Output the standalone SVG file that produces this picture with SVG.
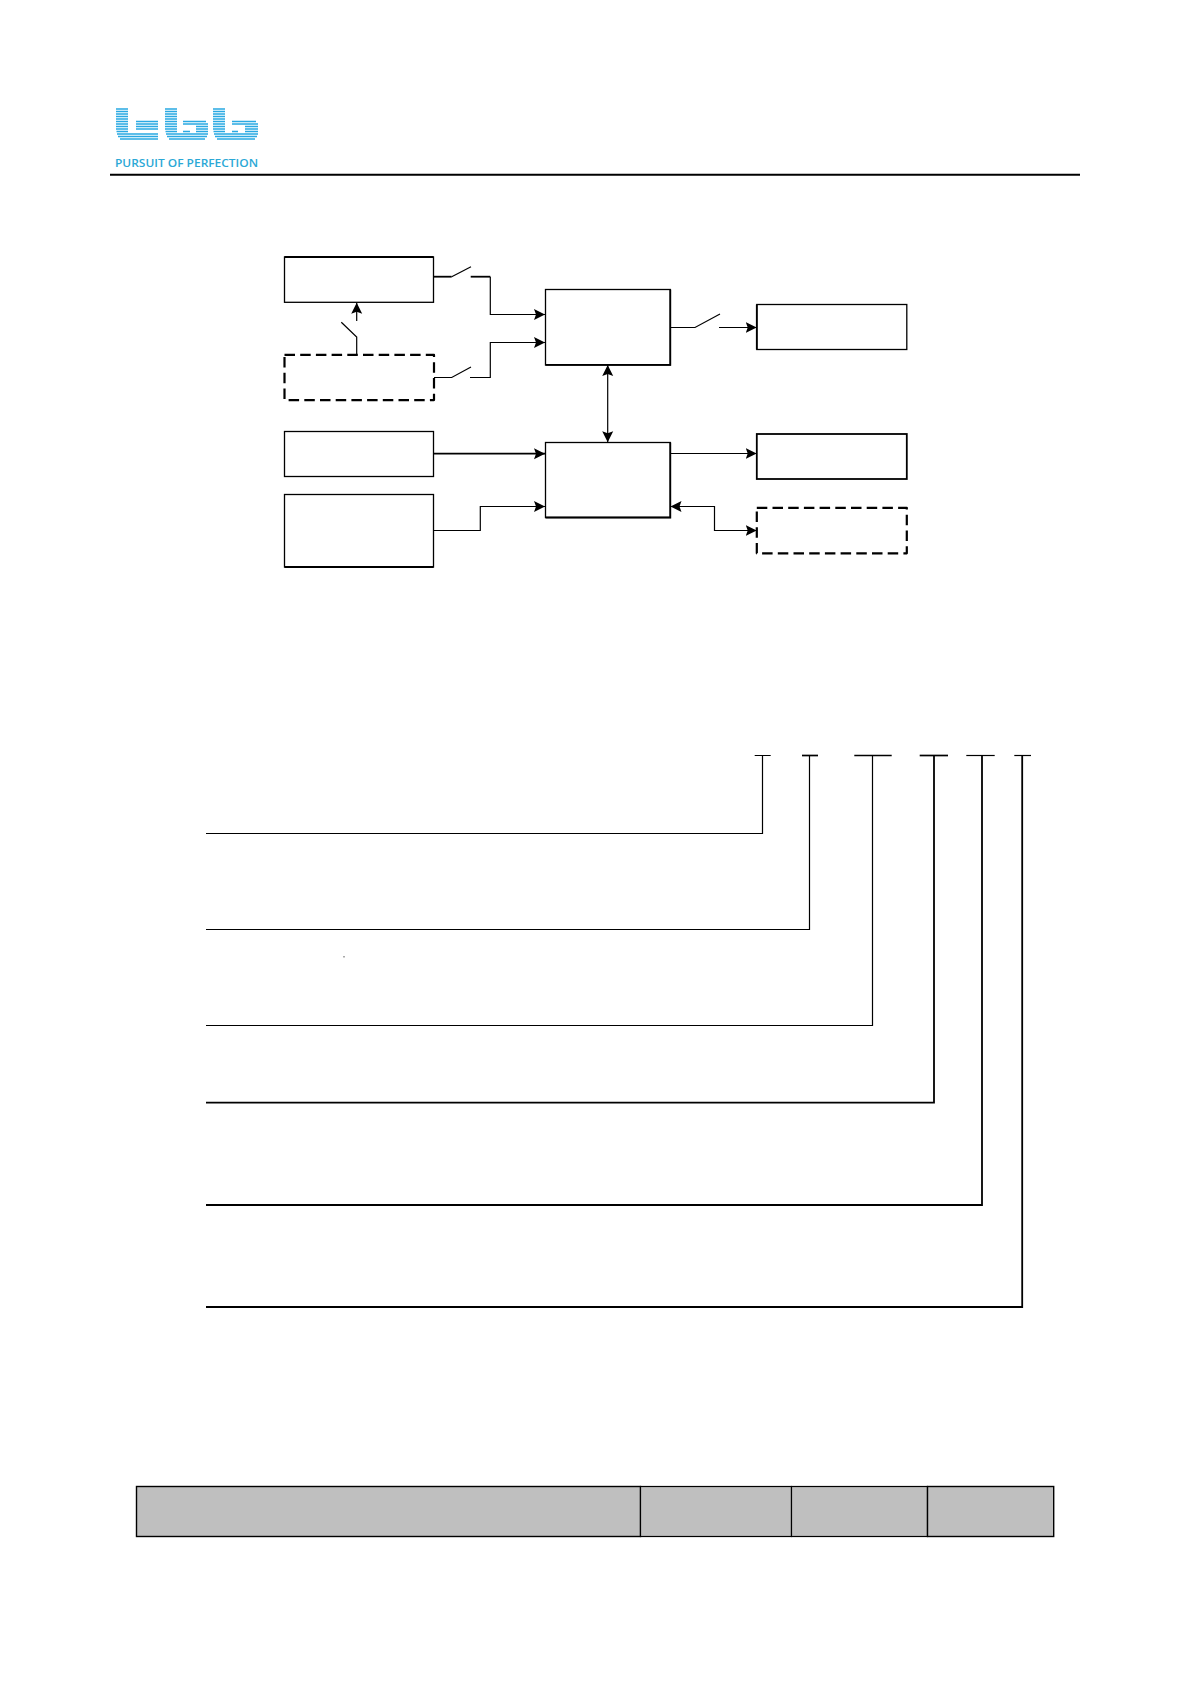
<svg xmlns="http://www.w3.org/2000/svg" width="1191" height="1684" viewBox="0 0 1191 1684">
<style>
.b{fill:#fff;stroke:#000;stroke-width:1.3}
.t{fill:#fff;stroke:#000;stroke-width:1.8}
.d{fill:#fff;stroke:#000;stroke-width:2.2;stroke-dasharray:10.500 5.200;stroke-linejoin:round}
.c{fill:none;stroke:#000;stroke-width:1.2}
.h{fill:none;stroke:#000;stroke-width:1.8}
.s{fill:none;stroke:#2aa9e2;stroke-width:1.500}
</style>
<defs>
<marker id="a" markerUnits="userSpaceOnUse" markerWidth="12" markerHeight="12" refX="11" refY="6" orient="auto-start-reverse"><path d="M0 .5L11 6L0 11.500L2 6Z" fill="#000"/></marker>
<filter id="soft" x="-5%" y="-10%" width="110%" height="120%"><feGaussianBlur stdDeviation="0.450"/></filter>
<path id="stem" d="M0 109H12M0 111.500H12M0 114H12M0 116.500H12M0 119H12M0 121.500H12M0 124H12M0 126.500H12M0 129H12M.5 131.500H12"/>
</defs>
<rect width="1191" height="1684" fill="#fff"/>
<g id="logo">
<g filter="url(#soft)">
<use href="#stem" x="116" class="s"/>
<use href="#stem" x="165" class="s"/>
<use href="#stem" x="213" class="s"/>
<path class="s" d="M117 134H158M118 136.500H158M120 139H158M136 121.500H158M136 124H158M136 126.500H158M136 129H158"/>
<path class="s" d="M166 134H208M167 136.500H207M169 139H205M183 121.500H206M183 124H208M196 126.500H208M196 129H208M196 131.500H208M183 131.500H190"/>
<path class="s" d="M214 134H258M215 136.500H257M217 139H255M232 121.500H256M232 124H258M245 126.500H258M245 129H258M245 131.500H258M232 131.500H238"/>
</g>
<text x="115" y="167" font-family="'Open Sans','Liberation Sans',sans-serif" font-size="11" font-weight="600" fill="#2ba8d6" textLength="143" lengthAdjust="spacingAndGlyphs">PURSUIT OF PERFECTION</text>
</g>
<path id="rule" d="M110 174.800H1080" stroke="#000" stroke-width="2"/>
<g id="connectors">
<path class="h" d="M434 276.700H451.700"/>
<path class="c" d="M451.700 276.700L471 266.700"/>
<path class="h" d="M470.700 276.700H490.300"/>
<path class="c" d="M490.300 276.700V314.500H545" marker-end="url(#a)"/>
<path class="c" d="M434 377.500H451.700L471 367M470 377.500H490.300V342.500H545" marker-end="url(#a)"/>
<path class="c" d="M356.700 354.700V337L341.300 322.300"/>
<path class="c" d="M356.700 321V302.700" marker-end="url(#a)"/>
<path class="h" d="M434 453.700H545" marker-end="url(#a)"/>
<path class="c" d="M434 530.500H480.300V506.500H545" marker-end="url(#a)"/>
<path class="c" d="M670 327.500H695L720 314"/>
<path class="c" d="M719 327.500H756.700" marker-end="url(#a)"/>
<path class="c" d="M607.700 365V442.300" marker-start="url(#a)" marker-end="url(#a)"/>
<path class="c" d="M670 453.500H756.700" marker-end="url(#a)"/>
<path class="c" d="M670.500 506.500H714.500V530.500H756.700" marker-start="url(#a)" marker-end="url(#a)"/>
<path class="c" d="M754.700 755.500H770.700M762.500 755.500V833.500H206"/>
<path d="M802 755.500H818" stroke="#000" stroke-width="1.700"/>
<path class="c" d="M809.500 755.500V929.500H206"/>
<path d="M854.300 755.500H891.700" stroke="#000" stroke-width="1.700"/>
<path class="c" d="M872.500 755.500V1025.500H206"/>
<path d="M919.700 755.500H948" stroke="#000" stroke-width="1.700"/>
<path class="h" d="M934 755.500V1102.700H206"/>
<path class="c" d="M966.300 755.500H994.700"/>
<path class="h" d="M982 755.500V1205H206"/>
<path class="c" d="M1014.300 755.500H1031"/>
<path class="h" d="M1022.200 755.500V1307H206"/>
</g>
<g id="n1"><rect class="b" x="284.500" y="257" width="149" height="45.300"/><path d="M284.500 257H433.500" stroke="#000" stroke-width="1.800"/></g>
<g id="n2"><rect class="d" x="284.500" y="354.800" width="149.500" height="45.300"/></g>
<g id="n3"><rect class="b" x="284.500" y="431.500" width="149" height="45"/></g>
<g id="n4"><rect class="b" x="284.500" y="494.500" width="149" height="72.500"/><path d="M284.500 567H433.500" stroke="#000" stroke-width="1.800"/></g>
<g id="n5"><rect class="b" x="545.500" y="289.500" width="124.800" height="75.500"/><path d="M545.500 364.800H670.300V289.500" fill="none" stroke="#000" stroke-width="1.800"/></g>
<g id="n6"><rect class="b" x="545.500" y="442.500" width="124.800" height="75"/><path d="M545.500 517.500H670.300V442.500" fill="none" stroke="#000" stroke-width="1.800"/></g>
<g id="n7"><rect class="b" x="756.800" y="304.500" width="150" height="45"/><path d="M756.800 304.500V349.500" stroke="#000" stroke-width="1.800"/></g>
<g id="n8"><rect class="t" x="756.800" y="434" width="150" height="45"/></g>
<g id="n9"><rect class="d" x="756.800" y="507.800" width="150" height="45.500"/></g>
<path id="dot" d="M344 956v1.500" stroke="#555" stroke-width="1"/>
<g id="table" fill="#bfbfbf" stroke="#000">
<rect x="136.500" y="1486.500" width="504" height="50" stroke-width="1.400"/>
<rect x="640.500" y="1486.500" width="151" height="50" stroke-width="1.200"/>
<rect x="791.500" y="1486.500" width="136" height="50" stroke-width="1.200"/>
<rect x="927.500" y="1486.500" width="126.200" height="50" stroke-width="1.400"/>
</g>
</svg>
